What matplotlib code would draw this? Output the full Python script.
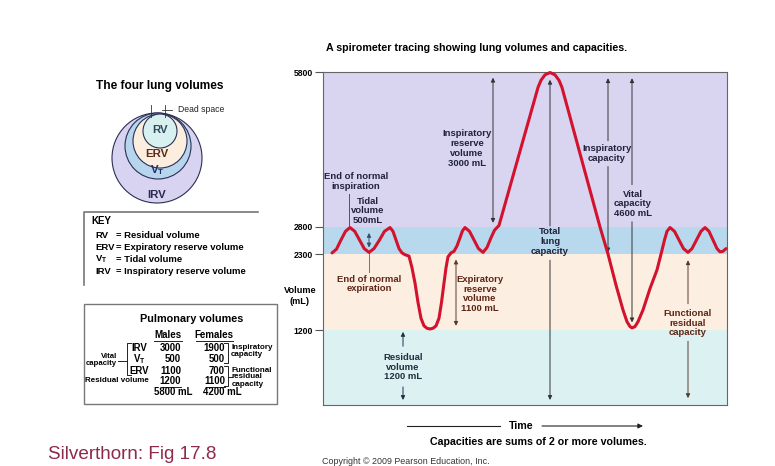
import matplotlib
matplotlib.use('Agg')
import numpy as np
import matplotlib.pyplot as plt
from matplotlib.patches import Circle, Rectangle

plt.rcParams['font.family'] = ['Liberation Sans', 'DejaVu Sans']
plt.rcParams['font.weight'] = 'bold'
plt.rcParams['mathtext.fontset'] = 'custom'
plt.rcParams['mathtext.bf'] = 'Liberation Sans:bold'
plt.rcParams['mathtext.rm'] = 'Liberation Sans:bold'
plt.rcParams['mathtext.default'] = 'bf'

# spirometer trace (time in arbitrary units, volume in mL)
trace_t = [9, 13.5, 18, 22.5, 27, 31.75, 36.5, 41.25, 46, 51, 56.5, 61.5, 67,
           70, 73, 76, 79, 82, 86, 89, 92, 95, 98, 101, 104, 107, 110, 113, 116,
           118.5, 121, 123, 125, 128, 131, 134, 137, 139.5, 142, 146.5, 151,
           155.5, 160, 164, 168, 171.5, 174, 176, 215, 218, 222, 227, 232, 236,
           239, 277, 285, 293, 300, 304, 307, 309, 312, 315, 320, 327, 334, 339,
           341.5, 344, 347, 351.5, 356, 360.5, 365, 369, 373.5, 378, 382, 386,
           390, 394, 397, 400, 403]
trace_ml = [2320, 2390, 2560, 2720, 2790, 2720, 2560, 2400, 2330, 2400, 2560,
            2720, 2790, 2720, 2560, 2400, 2320, 2290, 2270, 2100, 1880, 1600,
            1370, 1260, 1225, 1215, 1225, 1260, 1370, 1600, 1880, 2100, 2260,
            2320, 2350, 2450, 2600, 2730, 2790, 2720, 2560, 2400, 2330, 2420,
            2600, 2740, 2790, 2830, 5500, 5640, 5745, 5790, 5745, 5640, 5500,
            2800, 2300, 1850, 1490, 1320, 1250, 1230, 1250, 1320, 1490, 1800,
            2070, 2370, 2560, 2720, 2790, 2720, 2560, 2400, 2330, 2400, 2560,
            2720, 2790, 2720, 2560, 2400, 2340, 2350, 2400]

level_ml = [0, 1200, 2300, 2800, 5800]
tick_ml = [1200, 2300, 2800, 5800]
band_colors = ['#dcf1f2', '#fcefe2', '#b8d8ee', '#d9d5f1']

key_abbr = ['RV', 'ERV', 'V$_T$', 'IRV']
key_desc = ['Residual volume', 'Expiratory reserve volume',
            'Tidal volume', 'Inspiratory reserve volume']

table_rows = ['IRV', 'V$_T$', 'ERV', 'Residual volume']
males_ml = [3000, 500, 1100, 1200]
females_ml = [1900, 500, 700, 1100]

NAVY = '#22223a'
BROWN = '#5e2616'
GREY = '#555555'

fig = plt.figure(figsize=(7.75, 4.66), dpi=100)

# pixel-coordinate overlay for the diagram parts
ax0 = fig.add_axes([0, 0, 1, 1])
ax0.set_xlim(0, 775)
ax0.set_ylim(466, 0)
ax0.axis('off')

# ---- main spirometer plot ----
ax = fig.add_axes([323 / 775, 61 / 466, 404 / 775, 333 / 466])
pos = [0, 75, 151, 178, 333]  # schematic (non-linear) spacing of levels
ax.set_yscale('function', functions=(lambda v: np.interp(v, level_ml, pos),
                                      lambda p: np.interp(p, pos, level_ml)))
ax.set_ylim(0, 5800)
ax.set_xlim(0, 404)

for lo, hi, c in zip(level_ml[:-1], level_ml[1:], band_colors):
    ax.axhspan(lo, hi, color=c, lw=0, zorder=0)

ax.plot(trace_t, trace_ml, color='#d3122e', lw=2.2, solid_joinstyle='round',
        solid_capstyle='round', zorder=5, clip_on=False)

ax.set_xticks([])
ax.set_yticks(tick_ml)
ax.set_yticklabels([str(v) for v in tick_ml], fontsize=6.2, fontweight='bold')
ax.tick_params(axis='y', length=6, width=0.8, color=GREY, pad=1.5)
for s in ax.spines.values():
    s.set_color('#666666')
    s.set_linewidth(0.8)

def arrow(x, y0, y1, color='#333333', both=False):
    ax.annotate('', xy=(x, y1), xytext=(x, y0),
                arrowprops=dict(arrowstyle='<|-|>' if both else '-|>',
                                color=color, lw=0.7, mutation_scale=6,
                                shrinkA=0, shrinkB=0), zorder=4)

def label(x, y, s, color=NAVY):
    ax.text(x, y, s, ha='center', va='center', fontsize=6.8, color=color,
            linespacing=1.1, zorder=6)

label(33, 3677, 'End of normal\ninspiration')
ax.plot([26, 26], [3440, 2800], color=GREY, lw=0.7, zorder=4)
label(45, 3112, 'Tidal\nvolume\n500mL')
arrow(46, 2420, 2690, color='#34506a', both=True)
label(46, 1866, 'End of normal\nexpiration', BROWN)
ax.plot([46, 46], [2330, 2040], color='#8a6a60', lw=0.7, zorder=4)
label(144, 4319, 'Inspiratory\nreserve\nvolume\n3000 mL')
arrow(170, 2880, 5690, both=True)
label(227, 2532, 'Total\nlung\ncapacity')
arrow(227, 2820, 5650)
arrow(227, 2210, 80)
label(284, 4222, 'Inspiratory\ncapacity')
arrow(285, 4470, 5680)
arrow(285, 3970, 2330)
label(310, 3248, 'Vital\ncapacity\n4600 mL')
arrow(309, 3620, 5680)
arrow(309, 2900, 1310)
label(157, 1721, 'Expiratory\nreserve\nvolume\n1100 mL', BROWN)
arrow(133, 1260, 2220, color='#5a3a30', both=True)
label(80, 608, 'Residual\nvolume\n1200 mL', '#203040')
arrow(80, 940, 1170, color='#203040')
arrow(80, 290, 80, color='#203040')
label(365, 1301, 'Functional\nresidual\ncapacity', BROWN)
arrow(365, 1580, 2210, color='#5a3a30')
arrow(365, 1020, 110, color='#5a3a30')

# ---- text around the main plot ----
ax0.text(477, 48, 'A spirometer tracing showing lung volumes and capacities.',
         ha='center', va='center', fontsize=7.7)
ax0.text(300, 296, 'Volume\n(mL)', ha='center', va='center', fontsize=6.6,
         linespacing=1.15)
ax0.plot([407, 500], [426, 426], color='#222222', lw=0.8)
ax0.annotate('', xy=(643, 426), xytext=(542, 426),
             arrowprops=dict(arrowstyle='-|>', color='#222222', lw=0.8,
                             mutation_scale=7, shrinkA=0, shrinkB=0))
ax0.text(521, 426, 'Time', ha='center', va='center', fontsize=7.7)
ax0.text(538, 442, 'Capacities are sums of 2 or more volumes.', ha='center',
         va='center', fontsize=7.7)
ax0.text(322, 461, 'Copyright \u00a9 2009 Pearson Education, Inc.', ha='left',
         va='center', fontsize=6.4, fontweight='normal', color='#333333')
ax0.text(48, 446, 'Silverthorn: Fig 17.8', ha='left', va='top', fontsize=13.6,
         fontweight='normal', color='#8e2b4a')

# ---- the four lung volumes ----
ax0.text(160, 86, 'The four lung volumes', ha='center', va='center',
         fontsize=8.6)
circles = [((157, 158), 45, '#d7d3f0'), ((158, 146), 33, '#b7d5ed'),
           ((160, 141), 27, '#fbeedf'), ((160, 131), 17, '#d8f0ef')]
for (cx, cy), r, fc in circles:
    ax0.add_patch(Circle((cx, cy), r, facecolor=fc, edgecolor='#2a2f55',
                         lw=0.8))
ax0.text(160, 130, 'RV', ha='center', va='center', fontsize=8.2,
         color='#2e4a5a')
ax0.text(157, 154, 'ERV', ha='center', va='center', fontsize=8.2,
         color='#5c2a1a')
ax0.text(157, 170, 'V$_T$', ha='center', va='center', fontsize=8.2,
         color='#1f2f6a')
ax0.text(157, 195, 'IRV', ha='center', va='center', fontsize=8.2,
         color='#2a2a50')
ax0.plot([151, 151], [105, 117], color='#333333', lw=0.6)
ax0.plot([165, 165], [105, 117], color='#333333', lw=0.6)
ax0.plot([162, 172], [110, 110], color='#333333', lw=0.6)
ax0.text(178, 110, 'Dead space', ha='left', va='center', fontsize=6.2,
         fontweight='normal', color='#222222')

# ---- key ----
ax0.plot([84, 84, 258], [285, 212, 212], color='#777777', lw=1.2)
ax0.text(91, 221, 'KEY', ha='left', va='center', fontsize=7)
for i, (a, d) in enumerate(zip(key_abbr, key_desc)):
    y = 236 + i * 11.8
    ax0.text(95, y, a, ha='left', va='center', fontsize=6.8)
    ax0.text(116, y, '= ' + d, ha='left', va='center', fontsize=6.8)

# ---- pulmonary volumes table ----
ax0.add_patch(Rectangle((84, 304), 193, 100, facecolor='white',
                        edgecolor='#777777', lw=1))
ax0.text(192, 319, 'Pulmonary volumes', ha='center', va='center',
         fontsize=7.8)
ax0.text(168, 335, 'Males', ha='center', va='center', fontsize=7)
ax0.text(214, 335, 'Females', ha='center', va='center', fontsize=7)
ax0.plot([154, 182], [340.5, 340.5], color='#222222', lw=0.7)
ax0.plot([196, 233], [340.5, 340.5], color='#222222', lw=0.7)
row_y = [348, 359, 371, 381]
row_x = [131, 133, 129, 149]
for i, (name, m, f) in enumerate(zip(table_rows, males_ml, females_ml)):
    ha = 'right' if i == 3 else 'left'
    ax0.text(row_x[i], row_y[i], name, ha=ha, va='center',
             fontsize=6.9 if i < 3 else 5.8)
    ax0.text(181, row_y[i], str(m), ha='right', va='center', fontsize=6.9)
    ax0.text(225, row_y[i], str(f), ha='right', va='center', fontsize=6.9)
ax0.plot([163, 181], [386.5, 386.5], color='#222222', lw=0.7)
ax0.plot([207, 225], [386.5, 386.5], color='#222222', lw=0.7)
ax0.text(154, 392, f'{sum(males_ml)} mL', ha='left', va='center', fontsize=6.9)
ax0.text(203, 392, f'{sum(females_ml)} mL', ha='left', va='center',
         fontsize=6.9)
# brackets
ax0.plot([131, 127, 127, 131], [343, 343, 375, 375], color='#222222', lw=0.7)
ax0.plot([118, 127], [361, 361], color='#222222', lw=0.7)
ax0.text(117, 360, 'Vital\ncapacity', ha='right', va='center', fontsize=5.6,
         linespacing=1.1)
ax0.plot([224, 228, 228, 224], [343, 343, 363, 363], color='#222222', lw=0.7)
ax0.text(231, 351, 'Inspiratory\ncapacity', ha='left', va='center',
         fontsize=5.8, linespacing=1.05)
ax0.plot([224, 228, 228, 224], [366, 366, 386, 386], color='#222222', lw=0.7)
ax0.plot([228, 232], [377, 377], color='#222222', lw=0.7)
ax0.text(232, 377, 'Functional\nresidual\ncapacity', ha='left', va='center',
         fontsize=5.8, linespacing=1.0)

fig.savefig('out.png', dpi=100)
